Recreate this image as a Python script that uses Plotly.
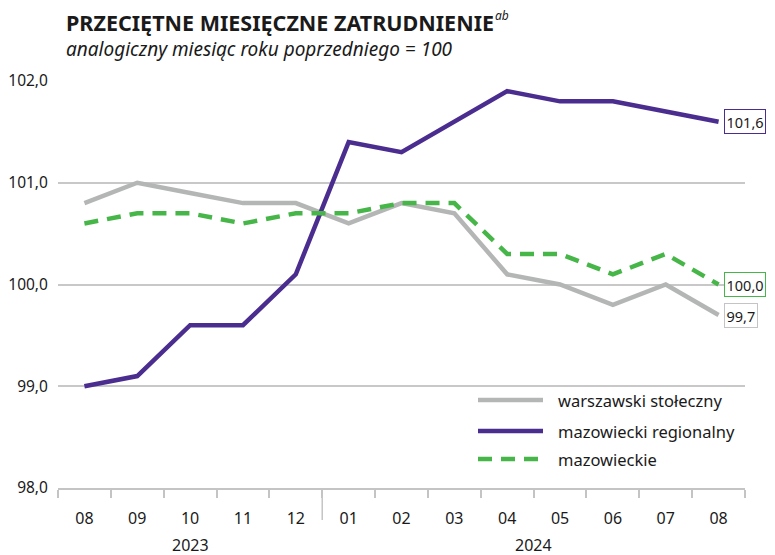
import plotly.graph_objects as go

months = ["08", "09", "10", "11", "12", "01", "02", "03", "04", "05", "06", "07", "08"]
years = ["2023", "2024"]
series_names = ["warszawski stołeczny", "mazowiecki regionalny", "mazowieckie"]
warszawski = [100.8, 101.0, 100.9, 100.8, 100.8, 100.6, 100.8, 100.7, 100.1, 100.0, 99.8, 100.0, 99.7]
regionalny = [99.0, 99.1, 99.6, 99.6, 100.1, 101.4, 101.3, 101.6, 101.9, 101.8, 101.8, 101.7, 101.6]
mazowieckie = [100.6, 100.7, 100.7, 100.6, 100.7, 100.7, 100.8, 100.8, 100.3, 100.3, 100.1, 100.3, 100.0]
yticks = [98, 99, 100, 101, 102]

colors = ["#b4b6b5", "#4a2d8f", "#47b648"]
dashes = ["solid", "solid", "14px,9px"]
data = [warszawski, regionalny, mazowieckie]
FONT = "Noto Sans"
TXT = "#1a1a1a"

x = list(range(len(months)))
fig = go.Figure()
for name, vals, c, d in zip(series_names, data, colors, dashes):
    fig.add_trace(go.Scatter(x=x, y=vals, mode="lines", name=name,
                             line=dict(color=c, width=4.5, dash=d), showlegend=False))

fmt = lambda v: f"{v:.1f}".replace(".", ",")
# end labels
for vals, bc in zip(data, ["#c4c4c4", "#4a2d8f", "#47b648"]):
    fig.add_annotation(x=x[-1], y=vals[-1], text=fmt(vals[-1]), showarrow=False,
                       xanchor="left", xshift=5, font=dict(size=14.5, color=TXT, family=FONT),
                       bordercolor=bc, borderwidth=1, borderpad=1.5, bgcolor="white")

# legend (manual)
W, H = 687, 407
fig.add_shape(type="rect", xref="paper", yref="paper", x0=(465-58)/W, x1=1.0,
              y0=(488-482)/H, y1=(488-382)/H, fillcolor="white", line=dict(width=0), layer="below")
leg_y = [400, 431, 459]
for name, c, d, yy in zip(series_names, colors, dashes, leg_y):
    yp = (488 - yy) / H
    fig.add_shape(type="line", xref="paper", yref="paper", x0=(478-58)/W, x1=(543-58)/W,
                  y0=yp, y1=yp, line=dict(color=c, width=4.5, dash=d))
    fig.add_annotation(xref="paper", yref="paper", x=(556-58)/W, y=yp, text=name, showarrow=False,
                       xanchor="left", yanchor="middle", font=dict(size=16.5, color=TXT, family=FONT))

# year divider and labels
fig.add_shape(type="line", xref="x", yref="paper", x0=4.5, x1=4.5, y0=0, y1=-32/H,
              line=dict(color="#c4c4c4", width=1.5))
for xv, yr in zip([2, 8.5], years):
    fig.add_annotation(xref="x", yref="paper", x=xv, y=(488-545)/H, text=yr, showarrow=False,
                       yanchor="middle", font=dict(size=16, color=TXT, family=FONT))

# title & subtitle
fig.add_annotation(xref="paper", yref="paper", x=(64-58)/W, y=(488-22.5)/H,
                   text="<b>PRZECIĘTNE MIESIĘCZNE ZATRUDNIENIE</b>",
                   showarrow=False, xanchor="left", yanchor="middle",
                   font=dict(size=21.5, color=TXT, family=FONT))
fig.add_annotation(xref="paper", yref="paper", x=(493-58)/W, y=(488-16)/H,
                   text="<i>ab</i>", showarrow=False, xanchor="left", yanchor="middle",
                   font=dict(size=12, color=TXT, family=FONT))
fig.add_annotation(xref="paper", yref="paper", x=(64-58)/W, y=(488-49)/H,
                   text="<i>analogiczny miesiąc roku poprzedniego = 100</i>",
                   showarrow=False, xanchor="left", yanchor="middle",
                   font=dict(size=19, color=TXT, family=FONT))

# page body has an 8px margin: shift figure accordingly
fig.update_layout(
    width=767, height=547, margin=dict(l=50, r=30, t=73, b=67),
    paper_bgcolor="white", plot_bgcolor="white", separators=", ",
    font=dict(family=FONT, size=16, color=TXT),
    xaxis=dict(range=[-0.5, 12.5], tickmode="array", tickvals=x, ticktext=months,
               ticks="outside", ticklen=15, tickcolor="rgba(0,0,0,0)", showgrid=False,
               showline=True, linecolor="#c4c4c4", linewidth=1.5, zeroline=False,
               automargin=False,
               minor=dict(tickmode="array", tickvals=[i - 0.5 for i in range(len(months) + 1)],
                          ticks="outside", ticklen=8, tickcolor="#c4c4c4", tickwidth=1.5),
               tickfont=dict(size=16)),
    yaxis=dict(range=[98, 102], tickmode="array", tickvals=yticks, tickformat=".1f",
               showgrid=True, gridcolor="#c8c8c8", gridwidth=1.5, zeroline=False,
               automargin=False,
               ticks="outside", ticklen=6, tickcolor="rgba(0,0,0,0)", tickfont=dict(size=15.5)),
)
fig.write_html("out.html")
